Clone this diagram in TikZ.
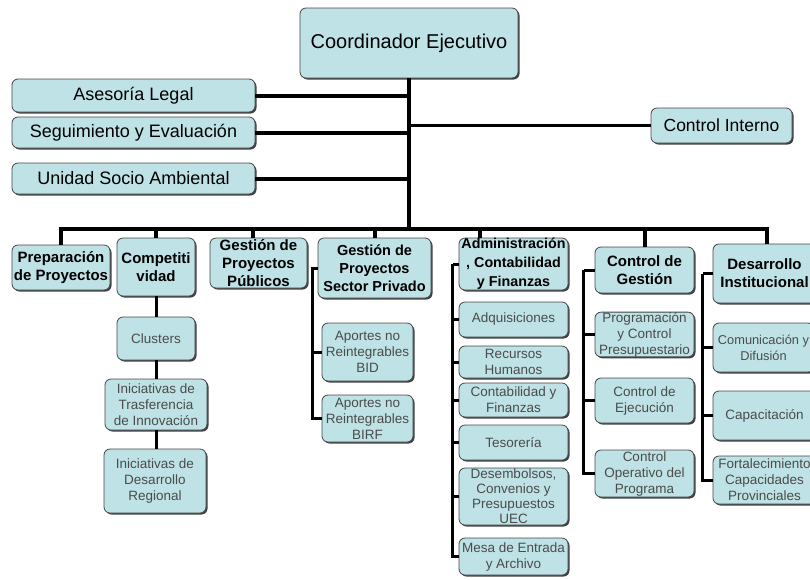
\documentclass[tikz,border=0pt]{standalone}
\usepackage{fontspec}
\setmainfont{Liberation Sans}
\usetikzlibrary{shadows,calc}
\definecolor{boxfill}{RGB}{190,226,229}
\definecolor{boxline}{RGB}{70,70,70}
\definecolor{subtext}{RGB}{75,75,75}
\tikzset{
  box/.style={rectangle, rounded corners=6pt, draw=boxline, line width=0.8pt,
    fill=boxfill, inner sep=0pt, align=center,
    drop shadow={shadow xshift=1.5pt, shadow yshift=-1.5pt, fill=black!75, opacity=1}},
  topfont/.style={font=\fontsize{20}{24}\selectfont},
  staff/.style={font=\fontsize{18}{22}\selectfont},
  head/.style={font=\fontsize{15}{18}\selectfont\bfseries},
  sub/.style={font=\fontsize{13.5}{16}\selectfont, text=subtext},
  thickline/.style={line width=4pt},
  conn/.style={line width=3pt},
}
\newcommand{\bx}[7]{\node[box,#6,minimum width={(#4-#2)*1pt},minimum height={(#5-#3)*1pt}] (#1) at ({(#2+#4)/2},{(#3+#5)/2}) {#7};}
\begin{document}
\begin{tikzpicture}[x=1pt,y=-1pt]
\useasboundingbox (0,0) rectangle (810,579);
\clip (0,0) rectangle (810,579);
% top level
\bx{coord}{300}{8}{518}{78}{topfont}{Coordinador Ejecutivo}
\bx{ase}{12}{79}{255}{112}{staff}{Asesoría Legal}
\bx{seg}{12}{117}{255}{148}{staff}{Seguimiento y Evaluación}
\bx{uni}{12}{163}{255}{194}{staff}{Unidad Socio Ambiental}
\bx{ci}{651}{108}{792}{143}{font=\fontsize{17.5}{21}\selectfont}{Control Interno}
% second row
\bx{prep}{12}{245}{110}{290}{head}{Preparación\\de Proyectos}
\bx{comp}{117}{238}{195}{296}{head}{Competiti\\vidad}
\bx{pub}{210}{238}{307}{288}{head}{Gestión de\\Proyectos\\Públicos}
\bx{priv}{318}{238}{431}{298}{head,font=\fontsize{14.5}{18}\selectfont\bfseries}{Gestión de\\Proyectos\\Sector Privado}
\bx{adm}{459}{238}{568}{290}{head,font=\fontsize{14.3}{19}\selectfont\bfseries}{Administración\\, Contabilidad\\y Finanzas}
\bx{cg}{595}{247}{694}{293}{head}{Control de\\Gestión}
\bx{di}{713}{244}{816}{303}{head}{Desarrollo\\Institucional}
% competitividad
\bx{clus}{117}{317}{195}{360}{sub}{Clusters}
\bx{ini1}{105}{379}{207}{430}{sub}{Iniciativas de\\Trasferencia\\de Innovación}
\bx{ini2}{104}{449}{206}{513}{sub}{Iniciativas de\\Desarrollo\\Regional}
% privado
\bx{apa1}{322}{323}{413}{381}{sub}{Aportes no\\Reintegrables\\BID}
\bx{apa2}{322}{395}{413}{442}{sub}{Aportes no\\Reintegrables\\BIRF}
% administracion
\bx{adq}{459}{302}{568}{337}{sub}{Adquisiciones}
\bx{rh}{459}{346}{568}{378}{sub}{Recursos\\Humanos}
\bx{cf}{459}{383}{568}{417}{sub}{Contabilidad y\\Finanzas}
\bx{tes}{459}{425}{568}{460}{sub}{Tesorería}
\bx{des}{459}{468}{568}{525}{sub,font=\fontsize{13.5}{15}\selectfont}{Desembolsos,\\Convenios y\\Presupuestos\\UEC}
\bx{mesa}{459}{538}{568}{575}{sub}{Mesa de Entrada\\y Archivo}
% control de gestion
\bx{prog}{595}{314}{694}{355}{sub}{Programación\\y Control\\Presupuestario}
\bx{ejec}{595}{378}{694}{423}{sub}{Control de\\Ejecución}
\bx{oper}{595}{450}{694}{497}{sub}{Control\\Operativo del\\Programa}
% desarrollo institucional
\bx{com}{713}{323}{814}{372}{sub,font=\fontsize{12.8}{16}\selectfont}{Comunicación y\\Difusión}
\bx{cap}{713}{391}{816}{440}{sub}{Capacitación}
\bx{fort}{713}{456}{816}{504}{sub}{Fortalecimiento\\Capacidades\\Provinciales}
% main connectors
\coordinate (bus) at (409,229);
\draw[thickline] (coord.south) -- (bus);
\draw[thickline] (ase.east) -- (ase.east -| coord.south);
\draw[thickline] (seg.east) -- (seg.east -| coord.south);
\draw[thickline] (uni.east) -- (uni.east -| coord.south);
\draw[conn] (ci.west) -- (ci.west -| coord.south);
\draw[thickline] (prep.north) |- (bus);
\draw[thickline] (comp.north) |- (bus);
\draw[thickline] ($(pub.north)+(-6,0)$) |- (bus);
\draw[thickline] (priv.north) |- (bus);
\draw[thickline] ($(adm.north west)+(21,0)$) |- (bus);
\draw[thickline] (cg.north) |- (bus);
\draw[thickline] ($(di.north)+(2,0)$) |- (bus);
% competitividad chain
\draw[conn] (comp.south) -- (clus.north);
\draw[conn] (clus.south) -- (clus.south |- ini1.north);
\draw[conn] (ini1.south) -- (ini1.south |- ini2.north);
% privado
\draw[conn] (priv.west) -- ++(-5,0) coordinate (pv) |- (apa1.west);
\draw[conn] (pv) |- (apa2.west);
% administracion
\draw[conn] (adm.west) -- ++(-6,0) coordinate (av);
\foreach \n in {adq,rh,cf,tes,des,mesa} \draw[conn] (av) |- (\n.west);
% control de gestion
\draw[conn] (cg.west) -- ++(-11,0) coordinate (gv);
\foreach \n in {prog,ejec,oper} \draw[conn] (gv) |- (\n.west);
% desarrollo institucional
\draw[conn] (di.west) -- ++(-10,0) coordinate (dv);
\foreach \n in {com,cap,fort} \draw[conn] (dv) |- (\n.west);
\end{tikzpicture}
\end{document}
